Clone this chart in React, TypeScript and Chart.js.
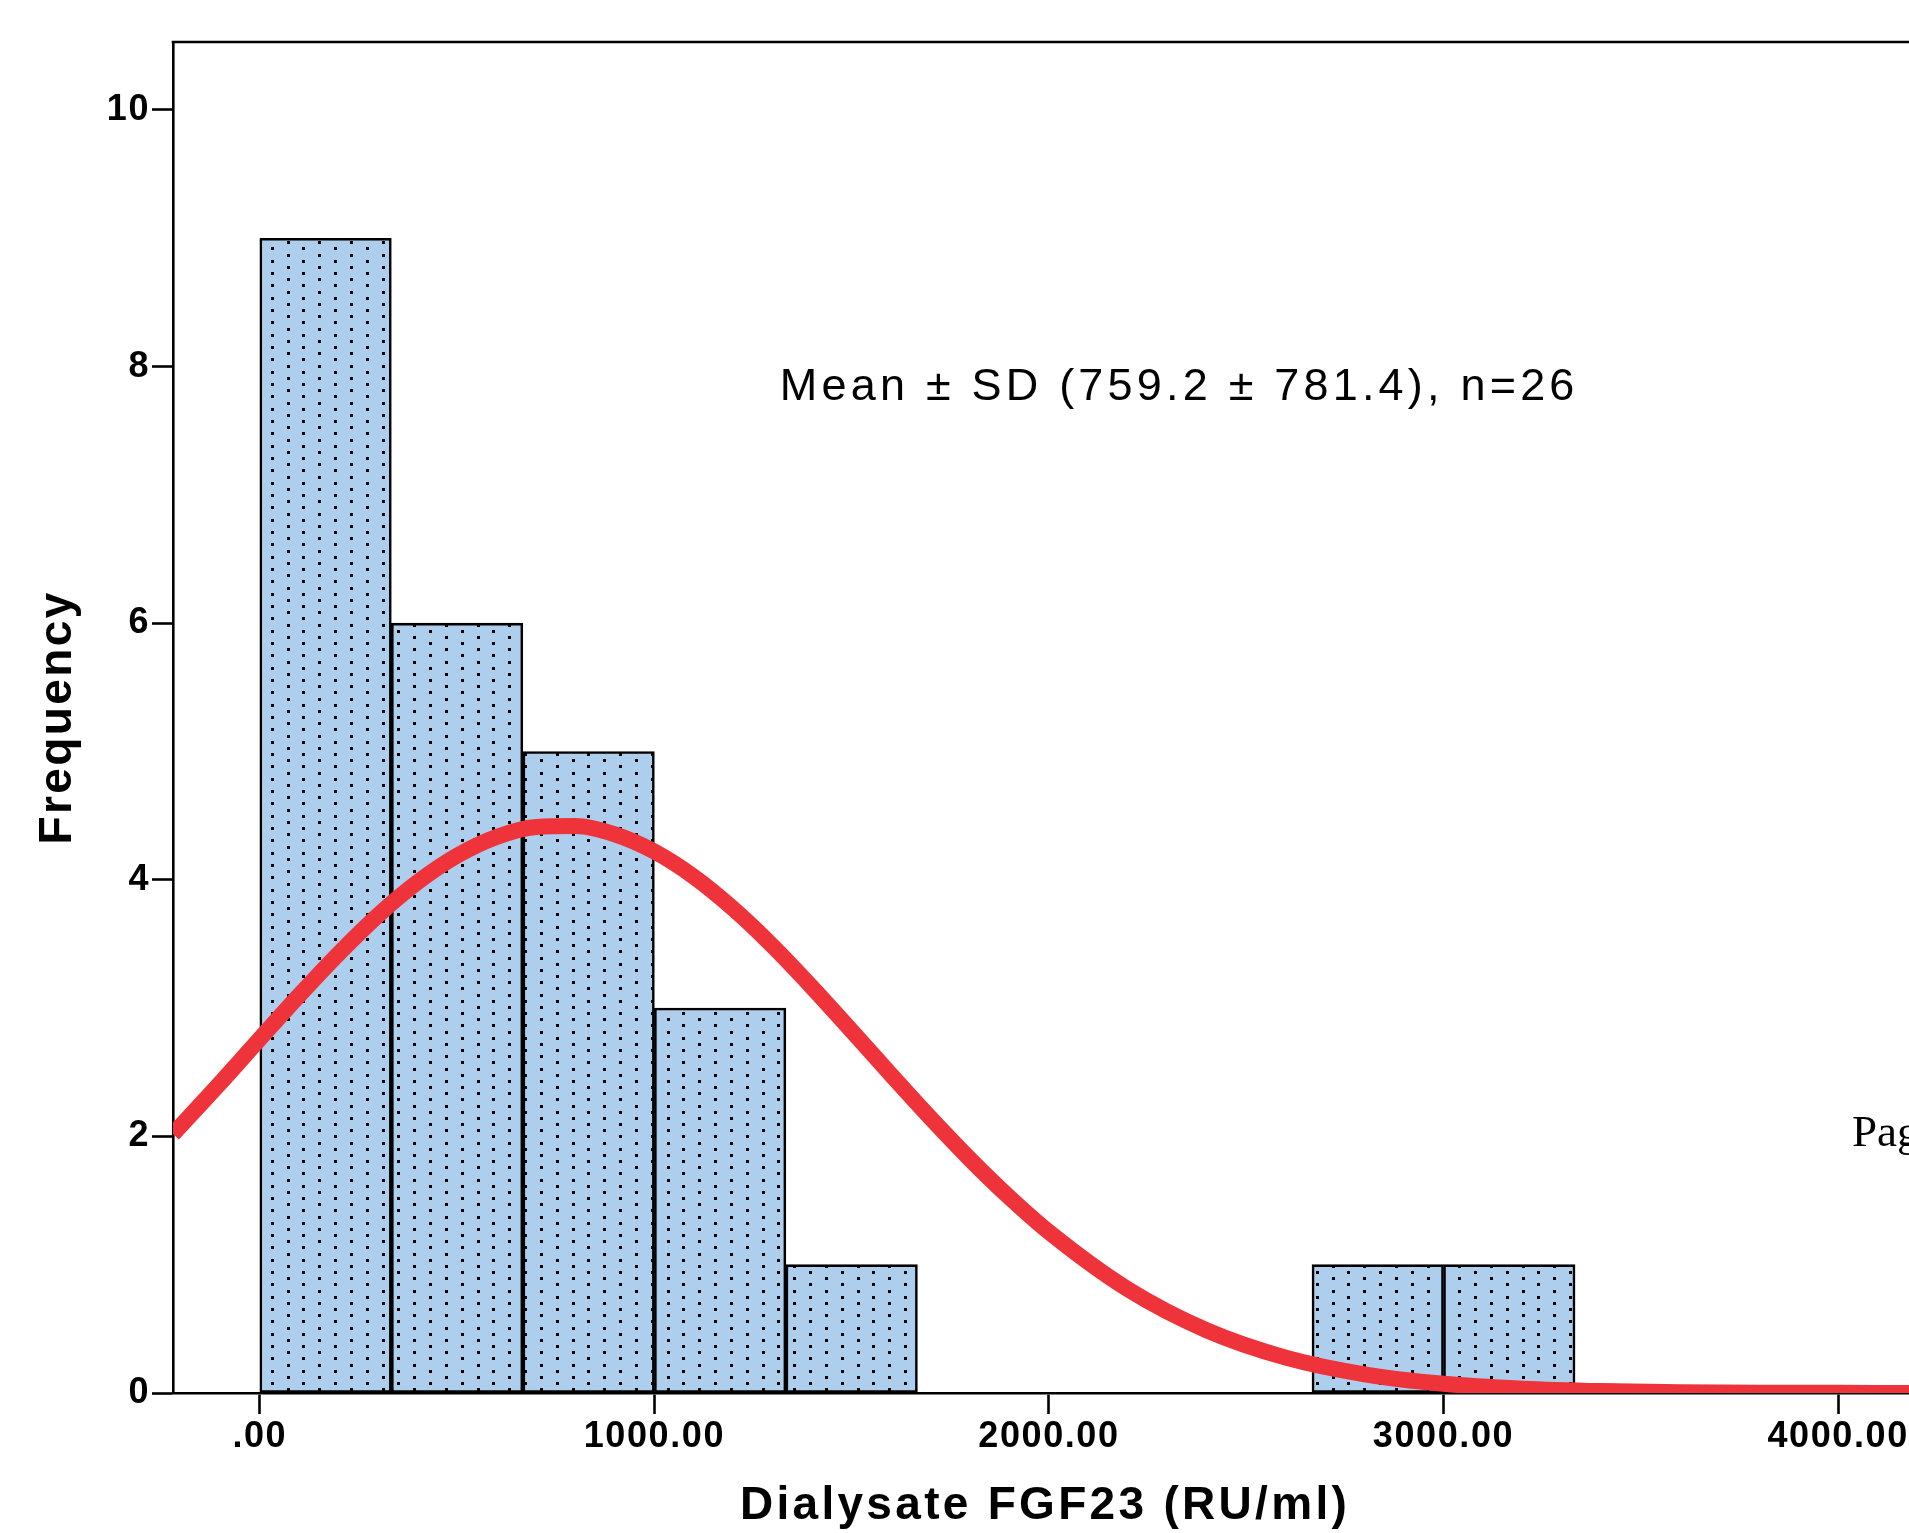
import React, { useEffect, useRef } from 'react';
import { Chart, LinearScale, registerables } from 'chart.js';

// ---- data ----
const BIN_CENTERS = [166.67, 500, 833.33, 1166.67, 1500, 1833.33, 2166.67, 2500, 2833.33, 3166.67];
const BIN_COUNTS = [9, 6, 5, 3, 1, 0, 0, 0, 1, 1];

const CURVE_X = [-220, -100, 0, 100, 200, 300, 400, 500, 600, 700, 800, 900, 1000, 1100, 1200, 1300, 1400, 1500, 1600, 1700, 1800, 1900, 2000, 2200, 2400, 2600, 2800, 3000, 3200, 3400, 3600, 3800, 4000, 4200];
const CURVE_Y = [2.018, 2.417, 2.76, 3.1, 3.425, 3.724, 3.981, 4.188, 4.334, 4.412, 4.419, 4.354, 4.22, 4.024, 3.774, 3.483, 3.161, 2.823, 2.48, 2.143, 1.822, 1.524, 1.254, 0.808, 0.488, 0.276, 0.146, 0.072, 0.034, 0.015, 0.006, 0.002, 0.001, 0.0];

const X_TICK_VALUES = [0, 1000, 2000, 3000, 4000];
const X_TICK_LABELS = ['.00', '1000.00', '2000.00', '3000.00', '4000.00'];
const Y_TICK_VALUES = [0, 2, 4, 6, 8, 10];
const Y_TICK_LABELS = ['0', '2', '4', '6', '8', '10'];

const X_TITLE = 'Dialysate FGF23 (RU/ml)';
const Y_TITLE = 'Frequency';
const STATS_LABEL = 'Mean ± SD (759.2 ± 781.4), n=26';
const STATS_POS = { x: 1318, y: 7.74 };
const PAGE_LABEL = 'Page';

// ---- styles ----
const FONT = "'Liberation Sans', Arial, Helvetica, sans-serif";
const BAR_FILL = 'rgb(174,206,237)';
const CURVE_COLOR = 'rgb(238,52,58)';
const LINE_W = 2.6;

const SPACING: Record<string, { labels: number; title: number }> = {
  x: { labels: 1.6, title: 3.3 },
  y: { labels: 1.6, title: 2.4 },
};

class SpacedLinearScale extends LinearScale {
  static id = 'spacedLinear';
  static defaults = LinearScale.defaults;
  drawLabels(area: any) {
    const ctx: any = this.ctx;
    ctx.save();
    ctx.letterSpacing = `${(SPACING as any)[this.id]?.labels ?? 0}px`;
    super.drawLabels(area);
    ctx.restore();
  }
  drawTitle() {
    const ctx: any = this.ctx;
    ctx.save();
    ctx.letterSpacing = `${(SPACING as any)[this.id]?.title ?? 0}px`;
    super.drawTitle();
    ctx.restore();
  }
}

Chart.register(...registerables, SpacedLinearScale);

function makeDotPattern(ctx: CanvasRenderingContext2D) {
  const tile = document.createElement('canvas');
  tile.width = 95;
  tile.height = 37;
  const t = tile.getContext('2d')!;
  t.fillStyle = BAR_FILL;
  t.fillRect(0, 0, 95, 37);
  t.fillStyle = '#000';
  for (let i = 0; i < 6; i++) {
    const x = 2.55 + i * 15.85;
    const y0 = i % 2 === 0 ? 8.0 : 1.7;
    for (let j = 0; j < 3; j++) {
      const y = y0 + j * 12.33;
      t.fillRect(Math.round(x) - 1, Math.round(y) - 1, 3, 3);
    }
  }
  return ctx.createPattern(tile, 'repeat');
}

const overlayPlugin = {
  id: 'overlay',
  afterDraw(chart: any) {
    const { ctx, chartArea, scales } = chart;
    ctx.save();
    ctx.strokeStyle = '#000';
    ctx.lineWidth = LINE_W;
    ctx.beginPath();
    ctx.moveTo(chartArea.left - LINE_W / 2, chartArea.top);
    ctx.lineTo(chartArea.right, chartArea.top);
    ctx.lineTo(chartArea.right, chartArea.bottom);
    ctx.stroke();

    ctx.fillStyle = '#000';
    ctx.textAlign = 'left';
    ctx.textBaseline = 'alphabetic';
    ctx.font = `45px ${FONT}`;
    ctx.letterSpacing = '4.2px';
    ctx.fillText(STATS_LABEL, scales.x.getPixelForValue(STATS_POS.x), scales.y.getPixelForValue(STATS_POS.y));

    ctx.letterSpacing = '0px';
    ctx.font = "45px 'Liberation Serif', 'Times New Roman', serif";
    ctx.fillText(PAGE_LABEL, 1852, 1146);
    ctx.restore();
  },
};

export default function App() {
  const ref = useRef<HTMLCanvasElement>(null);

  useEffect(() => {
    const canvas = ref.current!;
    const ctx = canvas.getContext('2d')!;
    const pattern = makeDotPattern(ctx);

    const tickFont = { family: FONT, size: 36, weight: 'bold' as const };
    const titleFont = { family: FONT, size: 46, weight: 'bold' as const, lineHeight: 1.0 };

    const chart = new Chart(canvas, {
      type: 'bar',
      data: {
        datasets: [
          {
            type: 'line',
            label: 'Normal',
            data: CURVE_X.map((x, i) => ({ x, y: CURVE_Y[i] })),
            borderColor: CURVE_COLOR,
            borderWidth: 16,
            pointRadius: 0,
            cubicInterpolationMode: 'monotone',
            fill: false,
            order: 1,
          } as any,
          {
            type: 'bar',
            label: 'Frequency',
            data: BIN_CENTERS.map((x, i) => ({ x, y: BIN_COUNTS[i] })),
            backgroundColor: pattern as any,
            borderColor: '#000',
            borderWidth: LINE_W,
            borderSkipped: false,
            barPercentage: 1,
            categoryPercentage: 1,
            order: 2,
          } as any,
        ],
      },
      options: {
        responsive: false,
        animation: false,
        devicePixelRatio: 1,
        layout: { padding: { top: 42, right: 43, bottom: 0, left: 0 } },
        plugins: { legend: { display: false }, tooltip: { enabled: false } },
        scales: {
          x: {
            type: 'spacedLinear' as any,
            position: 'bottom',
            min: -220,
            max: 4200,
            offset: false,
            z: 1,
            afterFit: (s: any) => { s.height = 140; },
            afterBuildTicks: (s: any) => { s.ticks = X_TICK_VALUES.map((v) => ({ value: v })); },
            grid: { offset: false, drawOnChartArea: false, drawTicks: true, tickLength: 21, tickWidth: LINE_W, tickColor: '#000' },
            border: { display: true, color: '#000', width: LINE_W },
            ticks: {
              autoSkip: false,
              maxRotation: 0,
              minRotation: 0,
              padding: 1,
              color: '#000',
              font: tickFont,
              callback: (_v: any, i: number) => X_TICK_LABELS[i],
            },
            title: { display: true, text: X_TITLE, color: '#000', font: titleFont, padding: { top: 0, bottom: 4 } },
          } as any,
          y: {
            type: 'spacedLinear' as any,
            position: 'left',
            min: 0,
            max: 10.53,
            z: 1,
            afterFit: (s: any) => { s.width = 173; },
            afterBuildTicks: (s: any) => { s.ticks = Y_TICK_VALUES.map((v) => ({ value: v })); },
            grid: { drawOnChartArea: false, drawTicks: true, tickLength: 21, tickWidth: LINE_W, tickColor: '#000' },
            border: { display: true, color: '#000', width: LINE_W },
            ticks: {
              autoSkip: false,
              padding: 2,
              color: '#000',
              font: tickFont,
              callback: (_v: any, i: number) => Y_TICK_LABELS[i],
            },
            title: { display: true, text: Y_TITLE, color: '#000', font: titleFont, padding: { top: 35, bottom: 0 } },
          } as any,
        },
      },
      plugins: [overlayPlugin],
    });

    return () => chart.destroy();
  }, []);

  return (
    <div style={{ position: 'fixed', left: 0, top: 0, width: 1909, height: 1533, overflow: 'hidden', background: '#fff' }}>
      <canvas ref={ref} width={1960} height={1533} style={{ display: 'block', width: 1960, height: 1533 }} />
    </div>
  );
}
